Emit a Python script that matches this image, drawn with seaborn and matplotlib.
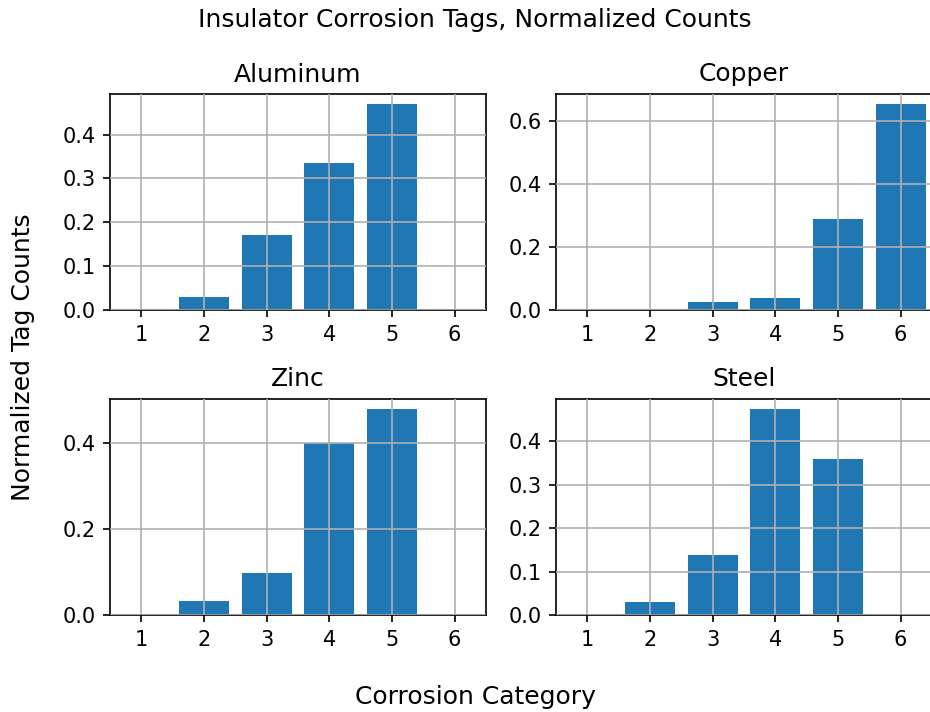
import matplotlib
matplotlib.use("Agg")
import matplotlib.pyplot as plt
import seaborn as sns
import pandas as pd

categories = [1, 2, 3, 4, 5, 6]
metals = ["Aluminum", "Copper", "Zinc", "Steel"]
aluminum = [0.0, 0.030, 0.171, 0.335, 0.469, 0.0]
copper = [0.0, 0.0, 0.024, 0.039, 0.290, 0.653]
zinc = [0.0, 0.033, 0.097, 0.399, 0.478, 0.0]
steel = [0.0, 0.029, 0.137, 0.473, 0.359, 0.0]
yticks = {
    "Aluminum": [0.0, 0.1, 0.2, 0.3, 0.4],
    "Copper": [0.0, 0.2, 0.4, 0.6],
    "Zinc": [0.0, 0.2, 0.4],
    "Steel": [0.0, 0.1, 0.2, 0.3, 0.4],
}
series = {"Aluminum": aluminum, "Copper": copper, "Zinc": zinc, "Steel": steel}

plt.rcParams["font.family"] = ["DejaVu Sans"]
dpi = 150
fig = plt.figure(figsize=(930 / dpi, 712 / dpi), dpi=dpi)

W, H = 930, 712
lefts = [110, 556]
tops = [94, 399]
aw, ah = 376, 216
positions = [(lefts[0], tops[0]), (lefts[1], tops[0]), (lefts[0], tops[1]), (lefts[1], tops[1])]

for metal, (lx, ty) in zip(metals, positions):
    ax = fig.add_axes([lx / W, (H - ty - ah) / H, aw / W, ah / H])
    df = pd.DataFrame({"cat": categories, "val": series[metal]})
    sns.barplot(data=df, x="cat", y="val", native_scale=True, color="#1f77b4",
                saturation=1, width=0.8, linewidth=0, ax=ax, errorbar=None)
    ax.set_xlim(0.5, 6.5)
    ax.set_xticks(categories)
    ax.set_xticklabels([str(c) for c in categories])
    ax.set_yticks(yticks[metal])
    ax.set_ylim(0, max(series[metal]) * 1.05)
    ax.grid(True, color="#b0b0b0", linewidth=0.8)
    ax.set_axisbelow(False)
    ax.set_xlabel("")
    ax.set_ylabel("")
    ax.set_title(metal, fontsize=12)

cx = 475 / W
fig.suptitle("Insulator Corrosion Tags, Normalized Counts", fontsize=12,
             x=cx, y=1 - 20 / H, va="center")
fig.supxlabel("Corrosion Category", fontsize=12, x=cx, y=15 / H, va="center")
fig.supylabel("Normalized Tag Counts", fontsize=12, x=23 / W, y=0.499, ha="center", va="center")

fig.savefig("out.png", dpi=dpi)
